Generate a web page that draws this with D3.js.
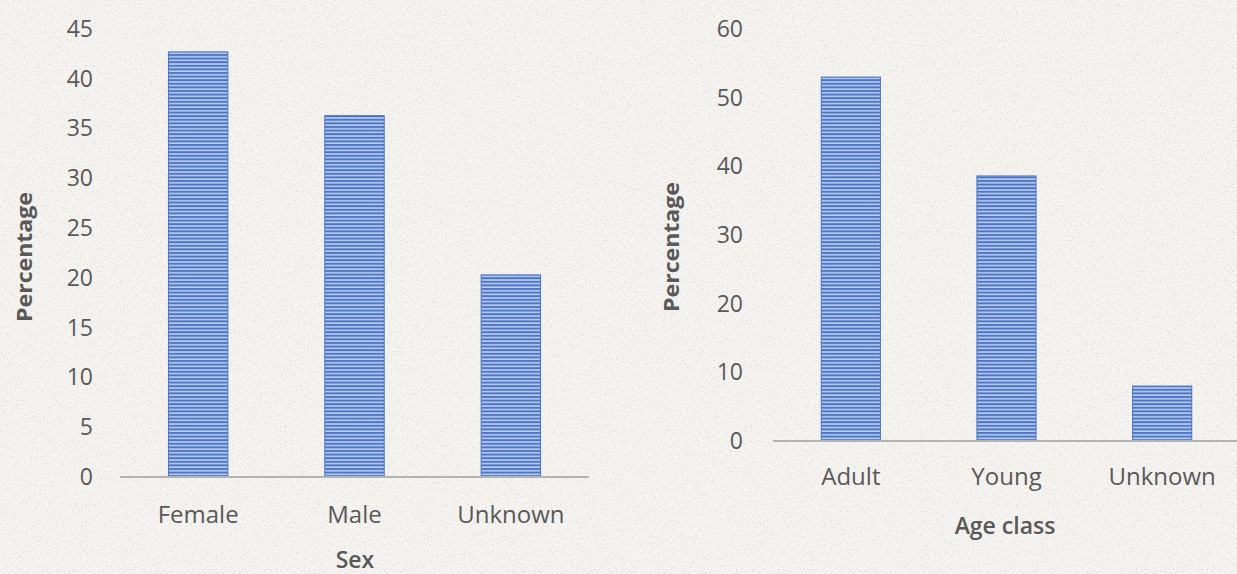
<!DOCTYPE html>
<html>
<head>
<meta charset="utf-8">
<script src="https://cdn.jsdelivr.net/npm/d3@7/dist/d3.min.js"></script>
<style>
  html, body { margin: 0; padding: 0; background: #f4f3f0; }
  svg { display: block; }
  text { font-family: "Open Sans", "DejaVu Sans", sans-serif; fill: #595959; }
</style>
</head>
<body>
<svg id="chart" width="1237" height="574"></svg>
<script>
// Distribution by sex
const sexCategories = ["Female", "Male", "Unknown"];
const sexValues = [42.7, 36.3, 20.3];
const sexTicks = [0, 5, 10, 15, 20, 25, 30, 35, 40, 45];

// Distribution by age class
const ageCategories = ["Adult", "Young", "Unknown"];
const ageValues = [53.0, 38.6, 8.0];
const ageTicks = [0, 10, 20, 30, 40, 50, 60];

const svg = d3.select("#chart");
const W = 1237, H = 574;

const defs = svg.append("defs");

// paper-like grain for the background
const grain = defs.append("filter").attr("id", "grain")
  .attr("x", 0).attr("y", 0).attr("width", "100%").attr("height", "100%");
grain.append("feTurbulence").attr("type", "fractalNoise")
  .attr("baseFrequency", 0.55).attr("numOctaves", 3).attr("seed", 7).attr("result", "n");
grain.append("feColorMatrix").attr("in", "n").attr("type", "matrix")
  .attr("values", "0 0 0 0 0.45  0 0 0 0 0.45  0 0 0 0 0.43  1.6 0 0 0 -0.78");

// narrow horizontal stripe fill of the bars
const stripe = defs.append("pattern").attr("id", "hstripe")
  .attr("patternUnits", "userSpaceOnUse").attr("width", 8).attr("height", 3.6);
stripe.append("rect").attr("width", 8).attr("height", 3.6).attr("fill", "#bccdec");
stripe.append("rect").attr("width", 8).attr("height", 2.0).attr("fill", "#4c76c7");

svg.append("rect").attr("width", W).attr("height", H).attr("fill", "#f5f4f1");
svg.append("rect").attr("width", W).attr("height", H).attr("filter", "url(#grain)").attr("opacity", 0.55);

function drawPanel(cfg) {
  const g = svg.append("g");
  const x = d3.scaleBand().domain(cfg.categories)
    .range(cfg.xRange).paddingInner(0.62).paddingOuter(0.31);
  const y = d3.scaleLinear().domain([0, d3.max(cfg.ticks)]).range(cfg.yRange);

  // bars
  g.selectAll("rect.bar").data(cfg.categories).join("rect")
    .attr("class", "bar")
    .attr("x", d => x(d))
    .attr("width", x.bandwidth())
    .attr("y", (d, i) => y(cfg.values[i]))
    .attr("height", (d, i) => y(0) - y(cfg.values[i]))
    .attr("fill", "url(#hstripe)")
    .attr("stroke", "#4a74c6").attr("stroke-width", 1);

  // category axis
  const xAxis = g.append("g").attr("transform", `translate(0,${y(0)})`)
    .call(d3.axisBottom(x).tickSize(0).tickPadding(cfg.catPad));
  xAxis.select(".domain").remove();
  xAxis.append("line")
    .attr("x1", cfg.xRange[0]).attr("x2", cfg.lineEnd)
    .attr("stroke", "#b3b3b1").attr("stroke-width", 2.2);
  xAxis.selectAll(".tick text")
    .style("font-family", "'Open Sans', sans-serif")
    .style("font-size", "24px").attr("fill", "#595959")
    .attr("dy", "0.71em");

  // value axis
  const yAxis = g.append("g").attr("transform", `translate(${cfg.tickX},0)`)
    .call(d3.axisLeft(y).tickValues(cfg.ticks).tickSize(0).tickPadding(0));
  yAxis.select(".domain").remove();
  yAxis.selectAll(".tick text")
    .style("font-family", "'Open Sans', sans-serif")
    .style("font-size", "23px").attr("fill", "#595959");

  // axis titles
  g.append("text")
    .attr("transform", `translate(${cfg.yTitle[0]},${cfg.yTitle[1]}) rotate(-90)`)
    .attr("text-anchor", "middle").attr("dominant-baseline", "central")
    .attr("textLength", 130).attr("lengthAdjust", "spacingAndGlyphs")
    .style("font-size", "21px").style("font-weight", 700)
    .attr("fill", "#505050")
    .text("Percentage");
  g.append("text")
    .attr("x", cfg.xTitle[0]).attr("y", cfg.xTitle[1])
    .attr("text-anchor", "middle").attr("dominant-baseline", "central")
    .style("font-size", "23px").style("font-weight", 600)
    .attr("fill", "#505050")
    .text(cfg.xLabel);
}

drawPanel({
  categories: sexCategories, values: sexValues, ticks: sexTicks,
  xRange: [120, 589], yRange: [477, 29], lineEnd: 589,
  tickX: 93, catPad: 29, yTitle: [24, 257], xTitle: [355, 559], xLabel: "Sex"
});

drawPanel({
  categories: ageCategories, values: ageValues, ticks: ageTicks,
  xRange: [773, 1240], yRange: [441, 29], lineEnd: 1237,
  tickX: 743, catPad: 27, yTitle: [671, 247], xTitle: [1005, 525], xLabel: "Age class"
});
</script>
</body>
</html>
